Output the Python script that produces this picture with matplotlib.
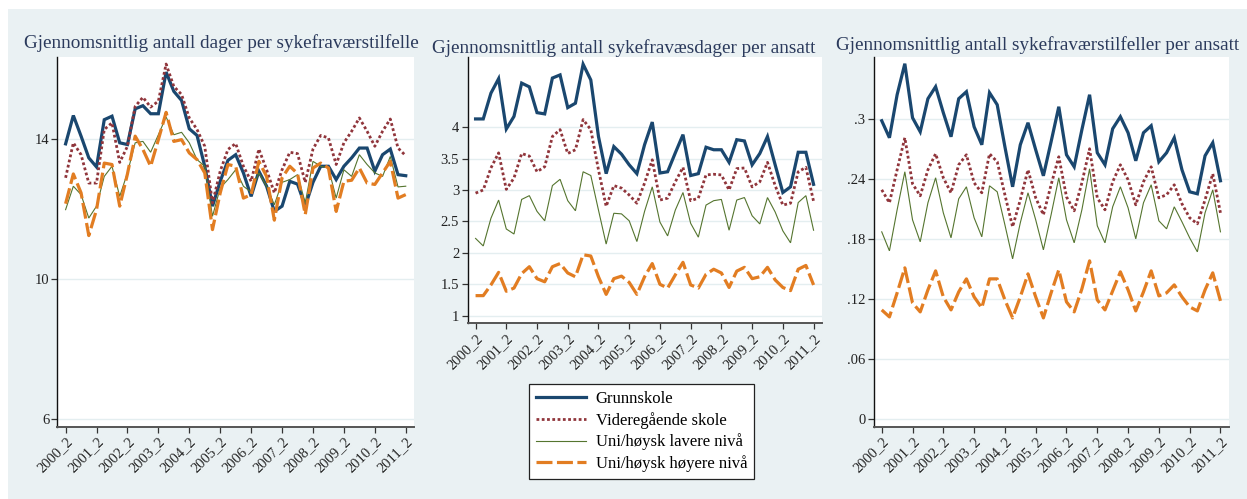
import numpy as np
import matplotlib
matplotlib.use("Agg")
import matplotlib.pyplot as plt
from matplotlib.patches import Rectangle

# kvartalsvis serie, 2000_2 .. 2011_2
quarters = [f"{y}_{q}" for y in range(2000, 2012) for q in range(1, 5)][1:46]
tick_pos = list(range(0, 45, 4))
tick_labels = [quarters[i] for i in tick_pos]

series_names = ["Grunnskole", "Videregående skole",
                "Uni/høysk lavere nivå", "Uni/høysk høyere nivå"]

# dager per sykefraværstilfelle
dager_tilfelle_grunn = [13.86, 14.67, 14.08, 13.46, 13.20, 14.55, 14.65, 13.89, 13.84, 14.86,
                        14.95, 14.72, 14.72, 15.91, 15.36, 15.10, 14.29, 14.10, 13.22, 12.08,
                        12.79, 13.39, 13.55, 13.03, 12.36, 13.08, 12.65, 11.93, 12.08, 12.79,
                        12.71, 12.08, 12.76, 13.22, 13.22, 12.84, 13.22, 13.46, 13.74, 13.74,
                        13.08, 13.55, 13.71, 12.98, 12.95]
dager_tilfelle_vgs = [12.89, 13.89, 13.55, 12.74, 12.74, 14.27, 14.46, 13.33, 13.79, 14.93,
                      15.19, 14.91, 15.08, 16.14, 15.50, 15.27, 14.60, 14.27, 13.79, 12.17,
                      13.08, 13.70, 13.87, 13.22, 12.79, 13.71, 13.12, 12.46, 13.12, 13.62,
                      13.58, 12.76, 13.71, 14.10, 14.03, 13.27, 13.89, 14.22, 14.60, 14.22,
                      13.79, 14.22, 14.57, 13.74, 13.52]
dager_tilfelle_lav = [11.98, 12.65, 12.41, 11.74, 12.08, 12.93, 13.22, 12.36, 13.03, 13.89,
                      13.93, 13.62, 14.12, 14.63, 14.12, 14.19, 13.89, 13.41, 13.22, 11.79,
                      12.60, 12.84, 13.12, 12.65, 12.48, 13.03, 12.65, 12.12, 12.76, 12.84,
                      12.98, 12.17, 13.36, 13.22, 13.17, 12.31, 13.12, 12.93, 13.55, 13.27,
                      13.03, 12.93, 13.50, 12.63, 12.65]
dager_tilfelle_hoy = [12.15, 13.00, 12.46, 11.24, 11.98, 13.31, 13.27, 12.08, 13.00, 14.08,
                      13.70, 13.22, 13.98, 14.76, 13.93, 13.98, 13.60, 13.41, 13.03, 11.41,
                      12.46, 13.27, 13.22, 12.31, 12.41, 13.36, 12.93, 11.68, 12.89, 13.22,
                      13.01, 11.84, 13.17, 13.31, 13.17, 11.93, 12.79, 12.82, 13.17, 12.74,
                      12.70, 13.03, 13.36, 12.31, 12.41]

# sykefraværsdager per ansatt
dager_ansatt_grunn = [4.13, 4.13, 4.54, 4.77, 3.97, 4.17, 4.70, 4.64, 4.23, 4.21,
                      4.78, 4.83, 4.31, 4.38, 5.00, 4.75, 3.85, 3.26, 3.69, 3.57,
                      3.40, 3.26, 3.72, 4.08, 3.27, 3.29, 3.59, 3.88, 3.23, 3.26,
                      3.68, 3.64, 3.64, 3.44, 3.80, 3.78, 3.40, 3.58, 3.85, 3.40,
                      2.96, 3.05, 3.60, 3.60, 3.09]
dager_ansatt_vgs = [2.95, 3.00, 3.35, 3.59, 3.01, 3.19, 3.58, 3.54, 3.29, 3.37,
                    3.85, 3.96, 3.58, 3.64, 4.12, 3.96, 3.32, 2.74, 3.07, 3.03,
                    2.92, 2.79, 3.11, 3.48, 2.84, 2.87, 3.13, 3.36, 2.83, 2.87,
                    3.24, 3.25, 3.24, 3.00, 3.34, 3.35, 3.05, 3.13, 3.44, 3.07,
                    2.76, 2.79, 3.29, 3.36, 2.82]
dager_ansatt_lav = [2.23, 2.11, 2.55, 2.84, 2.38, 2.30, 2.85, 2.91, 2.66, 2.51,
                    3.07, 3.17, 2.83, 2.67, 3.29, 3.23, 2.68, 2.14, 2.63, 2.62,
                    2.51, 2.18, 2.66, 3.05, 2.49, 2.27, 2.68, 2.96, 2.47, 2.25,
                    2.76, 2.83, 2.85, 2.36, 2.84, 2.88, 2.59, 2.46, 2.88, 2.65,
                    2.35, 2.16, 2.80, 2.91, 2.36]
dager_ansatt_hoy = [1.32, 1.32, 1.49, 1.69, 1.39, 1.44, 1.67, 1.78, 1.59, 1.54,
                    1.78, 1.83, 1.68, 1.62, 1.97, 1.95, 1.62, 1.34, 1.59, 1.63,
                    1.53, 1.34, 1.62, 1.83, 1.50, 1.44, 1.65, 1.85, 1.49, 1.44,
                    1.66, 1.74, 1.68, 1.45, 1.71, 1.77, 1.59, 1.62, 1.77, 1.57,
                    1.45, 1.40, 1.74, 1.80, 1.49]

# sykefraværstilfeller per ansatt
tilfeller_grunn = [0.298, 0.281, 0.324, 0.355, 0.301, 0.287, 0.320, 0.332, 0.306, 0.282,
                   0.320, 0.327, 0.292, 0.274, 0.326, 0.314, 0.272, 0.232, 0.274, 0.296,
                   0.269, 0.243, 0.277, 0.312, 0.264, 0.252, 0.289, 0.324, 0.266, 0.254,
                   0.290, 0.302, 0.286, 0.258, 0.286, 0.293, 0.257, 0.266, 0.281, 0.249,
                   0.227, 0.225, 0.263, 0.276, 0.238]
tilfeller_vgs = [0.229, 0.216, 0.249, 0.281, 0.235, 0.223, 0.249, 0.265, 0.241, 0.226,
                 0.254, 0.264, 0.236, 0.226, 0.265, 0.257, 0.224, 0.192, 0.219, 0.249,
                 0.221, 0.204, 0.234, 0.262, 0.222, 0.208, 0.236, 0.270, 0.221, 0.209,
                 0.237, 0.254, 0.239, 0.214, 0.237, 0.252, 0.221, 0.224, 0.234, 0.215,
                 0.201, 0.195, 0.219, 0.245, 0.206]
tilfeller_lav = [0.187, 0.168, 0.209, 0.247, 0.199, 0.177, 0.216, 0.241, 0.206, 0.181,
                 0.220, 0.232, 0.201, 0.182, 0.233, 0.227, 0.194, 0.160, 0.196, 0.226,
                 0.199, 0.169, 0.204, 0.241, 0.199, 0.176, 0.209, 0.250, 0.193, 0.176,
                 0.212, 0.232, 0.211, 0.180, 0.216, 0.234, 0.198, 0.190, 0.212, 0.197,
                 0.181, 0.167, 0.206, 0.229, 0.187]
tilfeller_hoy = [0.109, 0.102, 0.126, 0.151, 0.116, 0.107, 0.129, 0.148, 0.122, 0.109,
                 0.127, 0.140, 0.122, 0.111, 0.140, 0.140, 0.119, 0.101, 0.122, 0.145,
                 0.122, 0.101, 0.126, 0.149, 0.117, 0.107, 0.130, 0.158, 0.119, 0.109,
                 0.128, 0.147, 0.129, 0.108, 0.127, 0.148, 0.123, 0.126, 0.134, 0.122,
                 0.112, 0.108, 0.129, 0.146, 0.118]

titles = ["Gjennomsnittlig antall dager per sykefraværstilfelle",
          "Gjennomsnittlig antall sykefravæsdager per ansatt",
          "Gjennomsnittlig antall sykefraværstilfeller per ansatt"]

styles = [dict(color="#1A476F", lw=2.3, ls="-"),
          dict(color="#90353B", lw=2.0, ls=(0, (1, 0.9))),
          dict(color="#55752F", lw=0.8, ls="-"),
          dict(color="#E27D22", lw=2.3, ls=(0, (5, 1.4)))]

bg = "#EAF1F3"
serif = "Liberation Serif"

fig = plt.figure(figsize=(12.47, 4.99), dpi=100, facecolor="white")
fig.patches.append(Rectangle((8 / 1247, 0), 1, 1 - 9 / 499, transform=fig.transFigure,
                             facecolor=bg, edgecolor="none", zorder=-10))

panels = [
    dict(rect=[0.0461, 0.1449, 0.2861, 0.7415],
         data=[dager_tilfelle_grunn, dager_tilfelle_vgs, dager_tilfelle_lav, dager_tilfelle_hoy],
         ylim=(5.78, 16.35), yticks=[6, 10, 14], yfmt=lambda v: f"{v:g}",
         title_xy=(24, 43)),
    dict(rect=[0.3749, 0.3521, 0.2843, 0.5343],
         data=[dager_ansatt_grunn, dager_ansatt_vgs, dager_ansatt_lav, dager_ansatt_hoy],
         ylim=(0.88, 5.12), yticks=[1, 1.5, 2, 2.5, 3, 3.5, 4], yfmt=lambda v: f"{v:g}",
         title_xy=(432, 48)),
    dict(rect=[0.7006, 0.1449, 0.2849, 0.7415],
         data=[tilfeller_grunn, tilfeller_vgs, tilfeller_lav, tilfeller_hoy],
         ylim=(-0.0077, 0.362), yticks=[0, 0.06, 0.12, 0.18, 0.24, 0.3],
         yfmt=lambda v: "0" if v == 0 else f"{v:g}".lstrip("0"),
         title_xy=(836, 45)),
]

x = np.arange(45)
handles = []
for k, p in enumerate(panels):
    ax = fig.add_axes(p["rect"])
    ax.set_facecolor("white")
    for vals, st in zip(p["data"], styles):
        ln, = ax.plot(x, vals, solid_joinstyle="miter", **st)
        if k == 0:
            handles.append(ln)
    ax.set_xlim(-1.05, 45.1)
    ax.set_ylim(*p["ylim"])
    ax.set_yticks(p["yticks"])
    ax.set_yticklabels([p["yfmt"](v) for v in p["yticks"]], family=serif, fontsize=10.5, color="#222")
    ax.set_xticks(tick_pos)
    ax.set_xticklabels(tick_labels, rotation=45, ha="right", rotation_mode="anchor",
                       family=serif, fontsize=10.5, color="#222")
    ax.grid(axis="y", color="#E4EEF0", lw=1.0)
    ax.set_axisbelow(True)
    for s in ["top", "right"]:
        ax.spines[s].set_visible(False)
    ax.spines["left"].set_color("#111")
    ax.spines["left"].set_linewidth(1.0)
    ax.spines["bottom"].set_color("#555")
    ax.spines["bottom"].set_linewidth(1.4)
    ax.tick_params(axis="both", length=4, width=0.9, color="#333", pad=2)
    tx, ty = p["title_xy"]
    fig.text(tx / 1247, 1 - ty / 499, titles[k], family=serif, fontsize=13.8,
             color="#2B3A5C", ha="left", va="center")

leg = fig.legend(handles, series_names, loc="upper left",
                 bbox_to_anchor=(529 / 1247, 1 - 384 / 499), bbox_transform=fig.transFigure,
                 prop=dict(family=serif, size=12), frameon=True, fancybox=False,
                 edgecolor="#222", facecolor="white", framealpha=1,
                 handlelength=3.0, handletextpad=0.6, labelspacing=0.3,
                 borderpad=0.4, borderaxespad=0)
leg.get_frame().set_linewidth(0.9)

fig.savefig("out.png", dpi=100, facecolor="white")
